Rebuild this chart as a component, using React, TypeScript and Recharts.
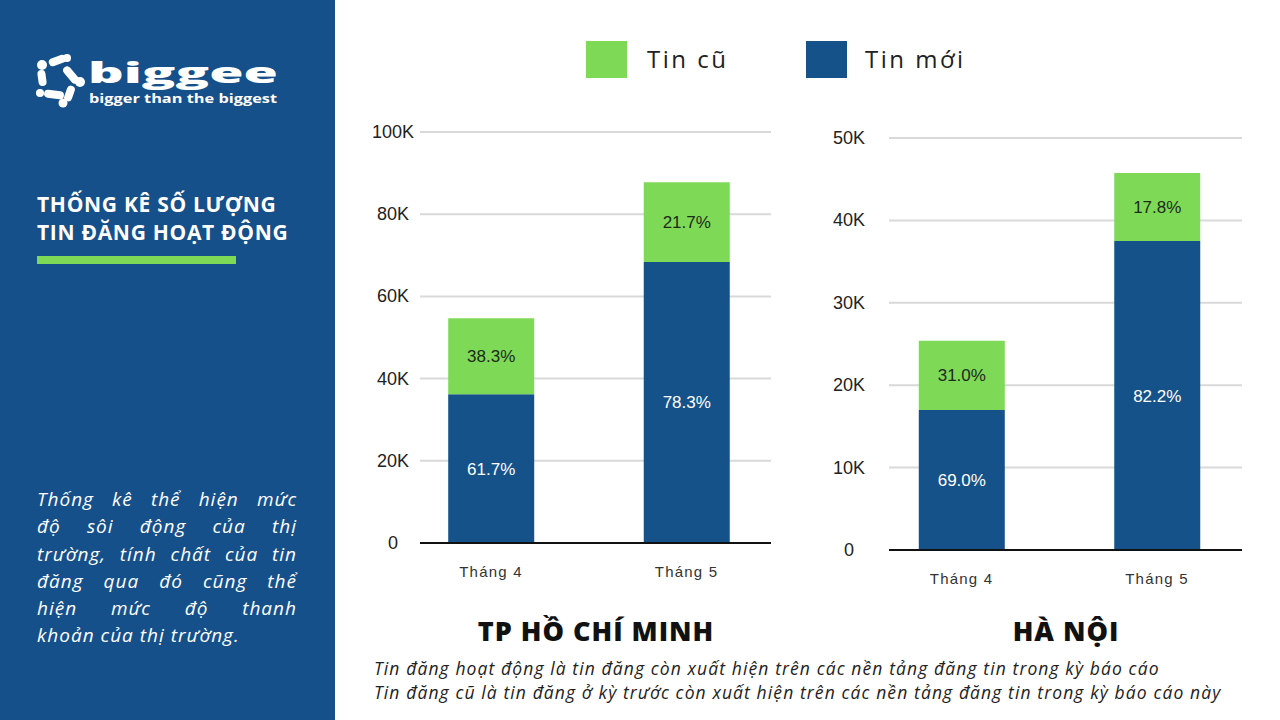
import React from 'react';
import { BarChart, Bar, XAxis, YAxis, CartesianGrid, LabelList } from 'recharts';

const months = ['Tháng 4', 'Tháng 5'];

// TP HCM
const hcmNew = [36200, 68400];
const hcmOld = [18500, 19400];
const hcmNewPct = ['61.7%', '78.3%'];
const hcmOldPct = ['38.3%', '21.7%'];
const hcmTicks = [0, 20000, 40000, 60000, 80000, 100000];

// Ha Noi
const hnNew = [17000, 37500];
const hnOld = [8400, 8250];
const hnNewPct = ['69.0%', '82.2%'];
const hnOldPct = ['31.0%', '17.8%'];
const hnTicks = [0, 10000, 20000, 30000, 40000, 50000];

const paragraph = [
  'Thống kê thể hiện mức',
  'độ sôi động của thị',
  'trường, tính chất của tin',
  'đăng qua đó cũng thể',
  'hiện mức độ thanh',
  'khoản của thị trường.',
];

const notes = [
  'Tin đăng hoạt động là tin đăng còn xuất hiện trên các nền tảng đăng tin trong kỳ báo cáo',
  'Tin đăng cũ là tin đăng ở kỳ trước còn xuất hiện trên các nền tảng đăng tin trong kỳ báo cáo này',
];

const BLUE = '#155289';
const GREEN = '#7ed957';
const PANEL = '#16508a';

const buildRows = (nw: number[], old: number[], nwPct: string[], oldPct: string[]) =>
  months.map((m, i) => ({ x: i, month: m, newV: nw[i], oldV: old[i], newPct: nwPct[i], oldPct: oldPct[i] }));

const fmtK = (v: number) => (v === 0 ? '0' : `${v / 1000}K`);

const YTick = (offset: number) => (props: any) => {
  const { x, y, payload } = props;
  return (
    <text x={x - offset} y={y} dy={6} textAnchor="middle" fill="#222" fontSize={18} fontFamily="Liberation Sans, Arial, sans-serif">
      {fmtK(payload.value)}
    </text>
  );
};

const XTick = (props: any) => {
  const { x, y, payload } = props;
  return (
    <text x={x} y={y} dy={14} textAnchor="middle" fill="#333" fontSize={15} letterSpacing={1.2} fontFamily="Liberation Sans, Arial, sans-serif">
      {months[payload.value]}
    </text>
  );
};

type ChartProps = {
  rows: any[];
  ticks: number[];
  max: number;
  left: number;
  margin: { top: number; right: number; left: number; bottom: number };
  tickOffset: number;
  domain: [number, number];
};

const StackChart = ({ rows, ticks, max, left, margin, tickOffset, domain }: ChartProps) => (
  <div style={{ position: 'absolute', left, top: 100 }}>
    <BarChart width={460} height={520} data={rows} margin={margin}>
      <CartesianGrid vertical={false} stroke="#d9d9d9" strokeWidth={2} />
      <XAxis
        type="number"
        dataKey="x"
        domain={domain}
        ticks={[0, 1]}
        allowDataOverflow
        tickLine={false}
        tickSize={0}
        tickMargin={20}
        height={30}
        axisLine={{ stroke: '#111', strokeWidth: 2 }}
        tick={XTick}
      />
      <YAxis
        domain={[0, max]}
        ticks={ticks}
        width={60}
        axisLine={false}
        tickLine={false}
        tickSize={0}
        tickMargin={0}
        tick={YTick(tickOffset)}
      />
      <Bar dataKey="newV" stackId="a" fill={BLUE} barSize={86} isAnimationActive={false}>
        <LabelList dataKey="newPct" position="center" fill="#ffffff" fontSize={17} fontFamily="Liberation Sans, Arial, sans-serif" />
      </Bar>
      <Bar dataKey="oldV" stackId="a" fill={GREEN} barSize={86} isAnimationActive={false}>
        <LabelList dataKey="oldPct" position="center" fill="#1d2a1a" fontSize={17} fontFamily="Liberation Sans, Arial, sans-serif" />
      </Bar>
    </BarChart>
  </div>
);

// logo drawn roughly: pentagon of pills + wordmark
const Logo = () => (
  <svg width={250} height={60} style={{ position: 'absolute', left: 34, top: 52 }}>
    <g fill="#fff">
      <circle cx={8} cy={13} r={5} />
      <rect x={4} y={18} width={8} height={16} rx={4} transform="rotate(-8 8 26)" />
      <rect x={14.5} y={4.5} width={18} height={8} rx={4} transform="rotate(-20 23.5 8.5)" />
      <circle cx={33} cy={6} r={4} />
      <rect x={27} y={19} width={20} height={8} rx={4} transform="rotate(50 37 23)" />
      <circle cx={46} cy={30} r={5} />
      <rect x={31.5} y={33.5} width={8} height={16} rx={4} transform="rotate(20 35.5 41.5)" />
      <circle cx={29} cy={51} r={4.5} />
      <rect x={10} y={38.5} width={20} height={8} rx={4} transform="rotate(8 20 42.5)" />
      <circle cx={6} cy={41} r={4} />
    </g>
    <text x={54} y={31} fill="#fff" fontSize={29} fontWeight={800} textLength={190} lengthAdjust="spacingAndGlyphs" fontFamily="Open Sans, sans-serif">
      biggee
    </text>
    <text x={55} y={51} fill="#fff" fontSize={11.5} fontWeight={700} textLength={188} lengthAdjust="spacingAndGlyphs" fontFamily="Open Sans, sans-serif">
      bigger than the biggest
    </text>
  </svg>
);

export default function App() {
  const hcmRows = buildRows(hcmNew, hcmOld, hcmNewPct, hcmOldPct);
  const hnRows = buildRows(hnNew, hnOld, hnNewPct, hnOldPct);
  return (
    <div style={{ position: 'absolute', left: 0, top: 0, width: 1280, height: 720, background: '#fff', overflow: 'hidden' }}>
      {/* left panel */}
      <div style={{ position: 'absolute', left: 0, top: 0, width: 335, height: 720, background: PANEL }}>
        <Logo />
        <div
          style={{
            position: 'absolute',
            left: 37,
            top: 190,
            color: '#fff',
            fontFamily: 'Open Sans, sans-serif',
            fontWeight: 700,
            fontSize: 21,
            lineHeight: '28px',
            letterSpacing: 0.7,
          }}
        >
          <div>THỐNG KÊ SỐ LƯỢNG</div>
          <div>TIN ĐĂNG HOẠT ĐỘNG</div>
        </div>
        <div style={{ position: 'absolute', left: 37, top: 256, width: 199, height: 8, background: GREEN }} />
        <div
          style={{
            position: 'absolute',
            left: 37,
            top: 486,
            width: 260,
            color: '#fff',
            fontFamily: 'Open Sans, sans-serif',
            fontStyle: 'italic',
            fontSize: 19,
            lineHeight: '27.3px',
            letterSpacing: 1,
          }}
        >
          {paragraph.map((l, i) => (
            <div key={i} style={{ textAlign: 'justify', textAlignLast: i < paragraph.length - 1 ? 'justify' : 'left' }}>
              {l}
            </div>
          ))}
        </div>
      </div>

      {/* legend */}
      <div style={{ position: 'absolute', left: 586, top: 41, width: 41, height: 37, background: GREEN }} />
      <div style={{ position: 'absolute', left: 647, top: 42, fontFamily: 'Open Sans, sans-serif', fontSize: 24, letterSpacing: 2.5, color: '#222' }}>
        Tin cũ
      </div>
      <div style={{ position: 'absolute', left: 806, top: 41, width: 41, height: 37, background: BLUE }} />
      <div style={{ position: 'absolute', left: 865, top: 42, fontFamily: 'Open Sans, sans-serif', fontSize: 24, letterSpacing: 2.5, color: '#222' }}>
        Tin mới
      </div>

      <StackChart
        rows={hcmRows}
        ticks={hcmTicks}
        max={100000}
        left={340}
        margin={{ top: 32, right: 29, left: 20, bottom: 47 }}
        tickOffset={27}
        domain={[-0.363, 1.432]}
      />
      <StackChart
        rows={hnRows}
        ticks={hnTicks}
        max={50000}
        left={800}
        margin={{ top: 38, right: 18, left: 29, bottom: 40 }}
        tickOffset={40}
        domain={[-0.371, 1.435]}
      />

      {/* city titles */}
      <div style={{ position: 'absolute', left: 446, width: 300, top: 612, textAlign: 'center', fontFamily: 'Open Sans, sans-serif', fontWeight: 800, fontSize: 27, letterSpacing: 1, color: '#111' }}>
        TP HỒ CHÍ MINH
      </div>
      <div style={{ position: 'absolute', left: 916, width: 300, top: 612, textAlign: 'center', fontFamily: 'Open Sans, sans-serif', fontWeight: 800, fontSize: 27, letterSpacing: 1, color: '#111' }}>
        HÀ NỘI
      </div>

      {/* notes */}
      <div style={{ position: 'absolute', left: 374, top: 656, fontFamily: 'Open Sans, sans-serif', fontStyle: 'italic', fontSize: 17.5, lineHeight: '24px', letterSpacing: 1.1, color: '#222' }}>
        {notes.map((n, i) => (
          <div key={i}>{n}</div>
        ))}
      </div>
    </div>
  );
}
